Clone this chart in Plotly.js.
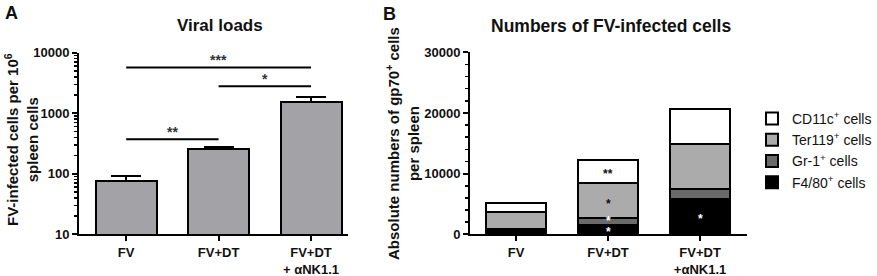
<!DOCTYPE html>
<html>
<head>
<meta charset="utf-8">
<script src="https://cdn.plot.ly/plotly-3.0.1.min.js"></script>
<style>
html,body{margin:0;padding:0;background:#fff;}
#chart{width:877px;height:276px;}
</style>
</head>
<body>
<div id="chart"></div>
<script>
// ---- Panel A data ----
const catsA = ['FV', 'FV+DT', 'FV+DT<br>+ αNK1.1'];
const viralLoads = [76, 253, 1510];
const viralErrUp = [16, 26, 360];
const sigPairsA = [[0, 1], [1, 2], [0, 2]];
const sigYA = [372, 2780, 5700];
const sigLabelsA = ['**', '*', '***'];
const tickValsA = [10, 100, 1000, 10000];
const tickTextA = ['10', '100', '1000', '10000'];

// ---- Panel B data ----
const catsB = ['FV', 'FV+DT', 'FV+DT<br>+αNK1.1'];
const seriesNames = ['F4/80<sup>+</sup> cells', 'Gr-1<sup>+</sup> cells', 'Ter119<sup>+</sup> cells', 'CD11c<sup>+</sup> cells'];
const f480 = [710, 1600, 5900];
const gr1 = [100, 1050, 1500];
const ter119 = [2820, 5750, 7410];
const cd11c = [1480, 3850, 5820];
const tickValsB = [0, 10000, 20000, 30000];
const tickTextB = ['0', '10000', '20000', '30000'];
// stars inside stacks: [category index, layer index, label]
const starCat = [1, 1, 1, 1, 2];
const starLayer = [3, 2, 1, 0, 0];
const starText = ['**', '*', '*', '*', '*'];

const W = 877, H = 276;
const FONT = 'Liberation Sans, Arial, sans-serif';
const px = x => x / W;
const py = y => 1 - y / H;

const stackValues = [f480, gr1, ter119, cd11c];
const fills = ['#000000', '#6a6a6a', '#ababab', '#ffffff'];
const starColors = ['#ffffff', '#ffffff', '#111111', '#111111'];
const starShift = [-3, 0, -3, -2];

const traces = [];
traces.push({
  type: 'bar', x: catsA, y: viralLoads, xaxis: 'x', yaxis: 'y',
  width: 0.66, showlegend: false,
  marker: {color: '#a3a2a7', line: {color: '#000', width: 2}},
  error_y: {type: 'data', symmetric: false, array: viralErrUp, arrayminus: viralErrUp.map(() => 0),
            color: '#000', thickness: 2, width: 15},
  hoverinfo: 'skip'
});
sigPairsA.forEach((p, i) => {
  traces.push({
    type: 'scatter', mode: 'lines', x: [catsA[p[0]], catsA[p[1]]], y: [sigYA[i], sigYA[i]],
    xaxis: 'x', yaxis: 'y', showlegend: false, line: {color: '#000', width: 2}, hoverinfo: 'skip'
  });
});
stackValues.forEach((vals, i) => {
  traces.push({
    type: 'bar', x: catsB, y: vals, xaxis: 'x2', yaxis: 'y2', name: seriesNames[i],
    width: 0.66, marker: {color: fills[i], line: {color: '#000', width: 2}}, hoverinfo: 'skip'
  });
});

const annotations = [];
sigPairsA.forEach((p, i) => {
  annotations.push({
    xref: 'x', yref: 'y', x: (p[0] + p[1]) / 2, y: Math.log10(sigYA[i]),
    text: sigLabelsA[i], showarrow: false, yanchor: 'bottom', yshift: -3,
    font: {family: FONT, size: 14, color: '#333', weight: 'bold'}
  });
});
starCat.forEach((c, k) => {
  const L = starLayer[k];
  let base = 0;
  for (let j = 0; j < L; j++) base += stackValues[j][c];
  const mid = base + stackValues[L][c] / 2;
  annotations.push({
    xref: 'x2', yref: 'y2', x: c, y: mid, text: starText[k], showarrow: false,
    yanchor: 'middle', yshift: starShift[L],
    font: {family: FONT, size: 12, color: starColors[L], weight: 'bold'}
  });
});
// titles and panel labels
annotations.push({xref: 'paper', yref: 'paper', x: px(220), y: py(26), text: 'Viral loads', showarrow: false,
  xanchor: 'center', yanchor: 'middle', font: {family: FONT, size: 17, color: '#111', weight: 'bold'}});
annotations.push({xref: 'paper', yref: 'paper', x: px(611), y: py(26), text: 'Numbers of FV-infected cells', showarrow: false,
  xanchor: 'center', yanchor: 'middle', font: {family: FONT, size: 17.5, color: '#111', weight: 'bold'}});
annotations.push({xref: 'paper', yref: 'paper', x: px(3), y: py(13), text: 'A', showarrow: false,
  xanchor: 'left', yanchor: 'middle', font: {family: FONT, size: 18, color: '#111', weight: 'bold'}});
annotations.push({xref: 'paper', yref: 'paper', x: px(381), y: py(14), text: 'B', showarrow: false,
  xanchor: 'left', yanchor: 'middle', font: {family: FONT, size: 18, color: '#111', weight: 'bold'}});
annotations.push({xref: 'paper', yref: 'paper', x: px(21), y: py(140), textangle: -90,
  text: 'FV-infected cells per 10<sup>6</sup><br>spleen cells', showarrow: false,
  xanchor: 'center', yanchor: 'middle', font: {family: FONT, size: 15, color: '#111', weight: 'bold'}});
annotations.push({xref: 'paper', yref: 'paper', x: px(402), y: py(144), textangle: -90,
  text: 'Absolute numbers of gp70<sup>+</sup> cells<br>per spleen', showarrow: false,
  xanchor: 'center', yanchor: 'middle', font: {family: FONT, size: 15, color: '#111', weight: 'bold'}});

const axisCommon = {
  showline: true, linecolor: '#000', linewidth: 2, ticks: 'outside', ticklen: 5, tickwidth: 2,
  tickcolor: '#000', showgrid: false, zeroline: false, fixedrange: true,
  tickfont: {family: FONT, size: 13, color: '#111', weight: 'bold'}
};
const xTickFont = {family: FONT, size: 13, color: '#111', weight: 'bold'};

const layout = {
  width: W, height: H, margin: {l: 0, r: 0, t: 0, b: 0},
  paper_bgcolor: '#fff', plot_bgcolor: 'rgba(0,0,0,0)',
  barmode: 'stack', bargap: 0,
  font: {family: FONT},
  xaxis: Object.assign({}, axisCommon, {domain: [px(79), px(348)], anchor: 'y', type: 'category',
    range: [-0.51, 2.4], tickfont: xTickFont}),
  yaxis: Object.assign({}, axisCommon, {domain: [py(234.3), py(52.7)], anchor: 'x', type: 'log',
    range: [1, 4], tickvals: tickValsA, ticktext: tickTextA,
    minor: {ticks: 'outside', ticklen: 3, tickwidth: 1.5, tickcolor: '#000', dtick: 'D1', showgrid: false}}),
  xaxis2: Object.assign({}, axisCommon, {domain: [px(470), px(747)], anchor: 'y2', type: 'category',
    range: [-0.5, 2.51], tickfont: xTickFont}),
  yaxis2: Object.assign({}, axisCommon, {domain: [py(234.3), py(52.3)], anchor: 'x2',
    range: [0, 30000], tickvals: tickValsB, ticktext: tickTextB,
    minor: {ticks: 'outside', ticklen: 3, tickwidth: 1.5, tickcolor: '#000', dtick: 2000, showgrid: false}}),
  legend: {x: px(752), y: py(103), xanchor: 'left', yanchor: 'top', traceorder: 'reversed',
    font: {family: FONT, size: 14, color: '#111'}, bgcolor: 'rgba(0,0,0,0)', tracegroupgap: 0,
    itemclick: false, itemdoubleclick: false},
  annotations: annotations,
  showlegend: true
};

Plotly.newPlot('chart', traces, layout, {staticPlot: true, displayModeBar: false});
</script>
</body>
</html>
